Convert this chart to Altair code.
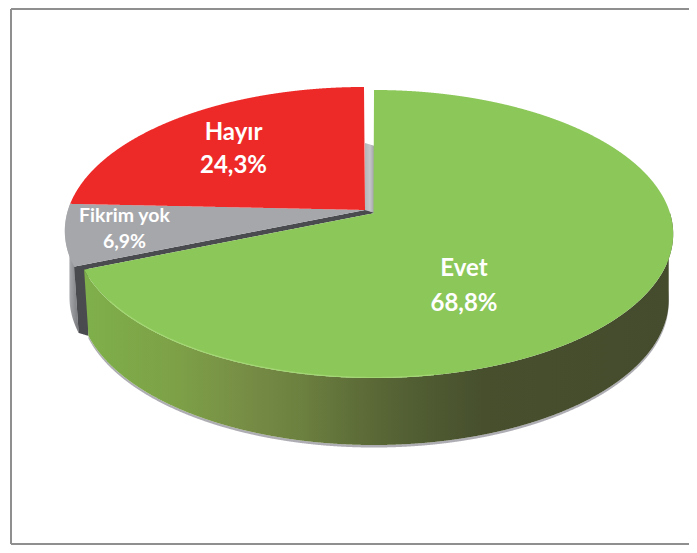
import math
import numpy as np
import pandas as pd
import altair as alt

# --- data
labels = ["Evet", "Fikrim yok", "Hayır"]
shares = [68.8, 6.9, 24.3]
value_text = ["68,8%", "6,9%", "24,3%"]

# --- colours
GREEN = "#8cc759"
RED = "#ee2a28"
GREY = "#a6a7ab"
DARK = "#4a4b4f"
FRAME = "#8f8f8f"

# --- layout: the scales use the picture's own pixel units
W, H = 681, 537
X0, Y0 = 8, 8
APEX_X = 375
APEX_Y = 213
PERSP = -0.1458
VY = 109.9
VX = 296
SHIFT = (-10, -3)          # exploded Hayır / Fikrim yok
INNER_H = 67

xs = alt.Scale(domain=[X0, X0 + W], range=[0, W], nice=False, zero=False)
ys = alt.Scale(domain=[Y0, Y0 + H], range=[0, H], nice=False, zero=False)


def rim(deg, shift=(0, 0)):
    a = math.radians(deg)
    u, v = math.sin(a), -math.cos(a)
    d = 1 + PERSP * v
    return (APEX_X - 1 + VX * u / d + shift[0], (VY * v + APEX_Y) / d + shift[1])


def lower(p):
    """same rim point on the base of the disc"""
    return (374 + (p[0] - 374) * 0.985, 300 + (p[1] - 234) * 1.007)


def arc(a, b, shift=(0, 0)):
    n = max(2, int(abs(b - a)) * 2)
    return [rim(t, shift) for t in np.linspace(a, b, n + 1)]


def rows(poly, step=0.5):
    pts = poly + [poly[0]]
    lo = min(p[0] for p in poly)
    hi = max(p[0] for p in poly)
    grid = sorted(set(list(np.arange(math.ceil(lo), hi, step)) + [p[0] for p in poly]))
    out = []
    for x in grid:
        yy = []
        for p, q in zip(pts[:-1], pts[1:]):
            if min(p[0], q[0]) <= x <= max(p[0], q[0]):
                if p[0] == q[0]:
                    yy += [p[1], q[1]]
                else:
                    yy.append(p[1] + (q[1] - p[1]) * (x - p[0]) / (q[0] - p[0]))
        if yy:
            out.append({"x": float(x), "y": min(yy), "y2": max(yy)})
    return pd.DataFrame(out)


def grad(stops):
    return alt.Gradient(
        gradient="linear", x1=0, x2=1, y1=0, y2=0,
        stops=[alt.GradientStop(color=c, offset=o) for o, c in stops],
    )


def poly_layer(poly, color, **kw):
    return (
        alt.Chart(rows(poly))
        .mark_area(color=color, interpolate="linear", **kw)
        .encode(
            x=alt.X("x:Q", scale=xs, axis=None),
            y=alt.Y("y:Q", scale=ys, axis=None),
            y2="y2:Q",
        )
    )


# --- slice boundaries, from the shares
a_evet = shares[0] * 3.6
a_grey = (shares[0] + shares[1]) * 3.6
a_end = sum(shares) * 3.6

apex = (APEX_X, APEX_Y)
apex_s = (APEX_X + SHIFT[0], APEX_Y + SHIFT[1])

evet_top = [apex] + arc(0, a_evet)
grey_top = [apex_s] + arc(a_evet, a_grey, SHIFT)
red_top = [apex_s] + arc(a_grey, a_end, SHIFT)

# walls
front = arc(90, a_evet)
evet_wall = front + [lower(p) for p in reversed(front)]
grey_arc = arc(a_evet, a_grey, SHIFT)
grey_wall = grey_arc + [lower(p) for p in reversed(grey_arc)]
shadow = [(p[0], p[1] + 2.5) for p in [lower(q) for q in front]] + [lower(q) for q in reversed(front)]

g_end = rim(a_evet, SHIFT)
e_end = rim(a_evet)
cut_face = [g_end, apex_s, apex, e_end, lower(e_end), lower(g_end)]
inner = [apex_s, apex, (apex[0], apex[1] - INNER_H), (apex_s[0], apex_s[1] - INNER_H)]

# light rim along the front edge of the top face
rim_pts = arc(170, 235)
rim_df = pd.DataFrame({"x": [p[0] for p in rim_pts], "y": [p[1] - 0.5 for p in rim_pts], "o": range(len(rim_pts))})
rim_line = alt.Chart(rim_df).mark_line(color="#a6d977", strokeWidth=1.2, opacity=0.8).encode(
    x=alt.X("x:Q", scale=xs, axis=None),
    y=alt.Y("y:Q", scale=ys, axis=None),
    order="o:Q",
)

# frame
frame_df = pd.DataFrame({"x": [11], "y": [Y0 + 1], "y2": [X0 + H - 1], "x2": [X0 + W]})
frame_left = alt.Chart(frame_df).mark_rule(color=FRAME, strokeWidth=2).encode(
    x=alt.X("x:Q", scale=xs, axis=None), y=alt.Y("y:Q", scale=ys, axis=None), y2="y2:Q"
)
frame_top = alt.Chart(frame_df).mark_rule(color=FRAME, strokeWidth=2).encode(
    x=alt.X("x:Q", scale=xs, axis=None), x2="x2:Q", y=alt.Y("y:Q", scale=ys, axis=None)
)
frame_bottom = alt.Chart(frame_df).mark_rule(color=FRAME, strokeWidth=2).encode(
    x=alt.X("x:Q", scale=xs, axis=None), x2="x2:Q", y=alt.Y("y2:Q", scale=ys, axis=None)
)

# text
name_x = [464, 124.5, 233.5]
name_y = [268.5, 216, 133]
val_x = [464, 124.5, 233.5]
val_y = [303.5, 242, 166]
sizes = [24, 19.5, 24]
texts = pd.DataFrame(
    [{"t": labels[i], "x": name_x[i], "y": name_y[i], "s": sizes[i]} for i in range(3)]
    + [{"t": value_text[i], "x": val_x[i], "y": val_y[i], "s": sizes[i]} for i in range(3)]
)
text = alt.Chart(texts).mark_text(
    font="Lato", fontWeight="bold", color="white", align="center", baseline="middle"
).encode(
    x=alt.X("x:Q", scale=xs, axis=None),
    y=alt.Y("y:Q", scale=ys, axis=None),
    text="t:N",
    size=alt.Size("s:Q", scale=None, legend=None),
)

chart = alt.layer(
    frame_left, frame_top, frame_bottom,
    poly_layer(inner, grad([(0, "#b4b5b9"), (0.5, "#c4c5c9"), (1, "#9a9b9f")])),
    poly_layer(shadow, "#adadb3"),
    poly_layer(grey_wall, grad([(0, "#d2d2d5"), (0.45, "#a0a1a5"), (1, "#77787c")])),
    poly_layer(cut_face, DARK),
    poly_layer(evet_wall, grad([
        (0, "#7fb04a"), (0.16, "#7da047"), (0.28, "#768c45"), (0.37, "#6c803f"),
        (0.47, "#5d6c38"), (0.57, "#505c32"), (0.68, "#474f2d"), (1, "#454c2e"),
    ])),
    poly_layer(grey_top, GREY),
    poly_layer(red_top, RED),
    poly_layer(evet_top, GREEN),
    rim_line,
    text,
).properties(
    width=W, height=H, padding=0, autosize=alt.AutoSizeParams(type="none"),
    background="white",
).configure_view(stroke=None)

chart.save("out.html", embed_options={"renderer": "svg", "actions": False})
